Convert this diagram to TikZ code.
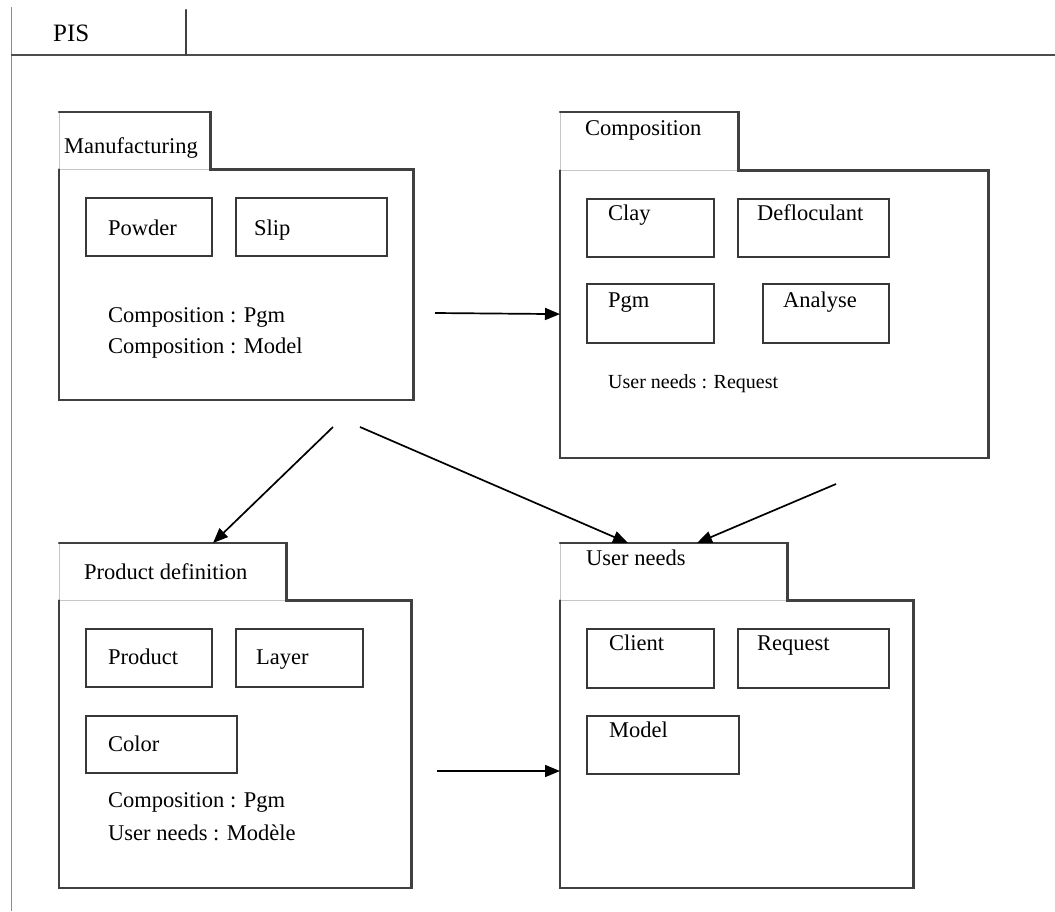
\documentclass[tikz,border=0pt]{standalone}
\usepackage{fontspec}
\setmainfont{Liberation Serif}
\usetikzlibrary{arrows.meta,calc}

% A UML package: a tab on top of a body, both named (#1tab and #1).
% #1 name, #2 x, #3 y of the tab top, #4 tab width, #5 tab height,
% #6 body width, #7 body height
\newcommand\umlpackage[7]{%
  \node[pkg, minimum width=#4pt, minimum height=#5pt] (#1tab) at (#2,#3) {};
  \node[pkg, minimum width=#6pt, minimum height=#7pt] (#1) at (#1tab.south west) {};
  \draw[faint] (#1tab.north west) -- (#1tab.south west) -- (#1tab.south east);
  \draw[edge] (#1tab.north west) -- (#1tab.north east) -- (#1tab.south east)
    -- (#1.north east) -- (#1.south east) -- (#1.south west) -- (#1.north west);
}

\begin{document}
\begin{tikzpicture}[x=1pt,y=-1pt,
  frame/.style={draw=black!70, line width=1.3pt},
  edge/.style={draw=black!75, line width=2.2pt, line cap=round, line join=miter},
  faint/.style={draw=black!22, line width=0.9pt},
  pkg/.style={rectangle, inner sep=0pt, anchor=north west},
  item/.style={draw=black!78, line width=2.2pt, rectangle, inner sep=0pt, anchor=north west},
  lbl/.style={anchor=base west, inner sep=0pt, text=black, font=\fontsize{22.5}{26}\selectfont},
  small/.style={anchor=base west, inner sep=0pt, text=black, font=\fontsize{20}{24}\selectfont},
  link/.style={draw=black, line width=1.7pt, -{Triangle[length=15pt,width=12pt]}}]

\useasboundingbox (0,0) rectangle (1055,911);

% outer frame with the PIS tab
\draw[draw=black!45, line width=1pt] (11,7) -- (11,911);
\draw[frame] (11,55) -- (1055,55);
\draw[edge] (186,10) -- (186,55);
\node[lbl, font=\fontsize{25}{28}\selectfont] (pis) at (53,41) {PIS};

% packages
\umlpackage{manu}{59}{112}{151}{57}{354}{230}
\umlpackage{comp}{560}{112}{178}{58}{428}{287}
\umlpackage{prod}{59}{543}{227}{57}{352}{287}
\umlpackage{user}{560}{543}{227}{57}{353}{287}

% Manufacturing
\node[lbl] (manulbl) at (64,153) {Manufacturing};
\node[item, minimum width=126pt, minimum height=58pt] (powder) at (85,197) {};
\node[item, minimum width=151pt, minimum height=58pt] (slip) at (235,197) {};
\node[lbl] (powderlbl) at (108,235) {Powder};
\node[lbl] (sliplbl) at (254,235) {Slip};
\node[lbl] (manuref1) at (108,322) {Composition : Pgm};
\node[lbl] (manuref2) at (108,353) {Composition : Model};

% Composition
\node[lbl] (complbl) at (585,135) {Composition};
\node[item, minimum width=127pt, minimum height=58pt] (clay) at (586,198) {};
\node[item, minimum width=151pt, minimum height=58pt] (deflo) at (737,198) {};
\node[item, minimum width=127pt, minimum height=59pt] (pgm) at (586,283) {};
\node[item, minimum width=126pt, minimum height=59pt] (analyse) at (762,283) {};
\node[lbl] (claylbl) at (608,220) {Clay};
\node[lbl] (deflolbl) at (757,220) {Defloculant};
\node[lbl] (pgmlbl) at (608,307) {Pgm};
\node[lbl] (analyselbl) at (783,307) {Analyse};
\node[small] (compref) at (608,388) {User needs : Request};

% Product definition
\node[lbl] (prodlbl) at (84,579) {Product definition};
\node[item, minimum width=126pt, minimum height=58pt] (product) at (85,628) {};
\node[item, minimum width=127pt, minimum height=58pt] (layer) at (235,628) {};
\node[item, minimum width=151pt, minimum height=57pt] (color) at (85,715) {};
\node[lbl] (productlbl) at (108,664) {Product};
\node[lbl] (layerlbl) at (256,664) {Layer};
\node[lbl] (colorlbl) at (108,751) {Color};
\node[lbl] (prodref1) at (108,807) {Composition : Pgm};
\node[lbl] (prodref2) at (108,840) {User needs : Modèle};

% User needs
\node[lbl] (userlbl) at (586,565) {User needs};
\node[item, minimum width=127pt, minimum height=59pt] (client) at (586,628) {};
\node[item, minimum width=151pt, minimum height=59pt] (request) at (737,628) {};
\node[item, minimum width=152pt, minimum height=58pt] (model) at (586,715) {};
\node[lbl] (clientlbl) at (609,650) {Client};
\node[lbl] (requestlbl) at (757,650) {Request};
\node[lbl] (modellbl) at (609,737) {Model};

% dependencies between packages
\coordinate (m2c) at (435,313);
\coordinate (m2p) at (333,427);
\coordinate (m2u) at (360,427);
\coordinate (c2u) at (836,484);
\coordinate (p2u) at (437,771);
\draw[link] (m2c) -- (comp.west);
\draw[link] (m2p) -- ($(prodtab.north west)+(154,0)$);
\draw[link] (m2u) -- ($(usertab.north west)+(68,0)$);
\draw[link] (c2u) -- ($(usertab.north west)+(137,0)$);
\draw[link] (p2u) -- (user.west |- p2u);
\end{tikzpicture}
\end{document}
